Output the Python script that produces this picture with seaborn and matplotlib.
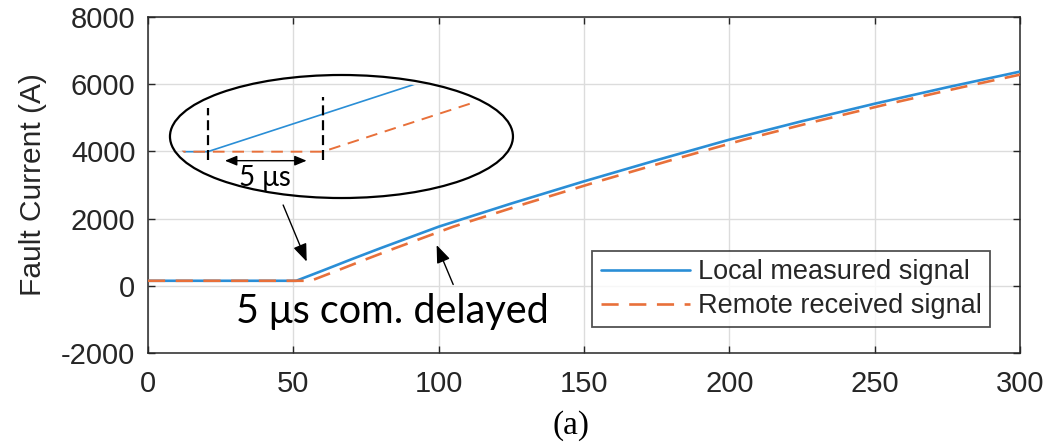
import numpy as np
import pandas as pd
import matplotlib
matplotlib.use("Agg")
import matplotlib.pyplot as plt
from matplotlib.patches import Ellipse
import seaborn as sns

# Sampled fault current (A) versus time (us)
local_time = [0, 51, 60, 70, 80, 90, 100, 125, 150, 175, 200, 225, 250, 275, 300]
local_current = [150, 150, 450, 790, 1120, 1440, 1760, 2450, 3110, 3740, 4350, 4900, 5420, 5910, 6375]

# Same waveform as received at the remote end over the communication link
remote_time = [0, 56, 65, 75, 85, 95, 105, 130, 155, 180, 205, 230, 255, 280, 300]
remote_current = [150, 150, 450, 790, 1120, 1440, 1760, 2450, 3110, 3740, 4350, 4900, 5420, 5910, 6285]

fault_onset = 51      # us, local
com_delay = 5         # us

x_ticks = [0, 50, 100, 150, 200, 250, 300]
y_ticks = [-2000, 0, 2000, 4000, 6000, 8000]

blue = "#2a8ed6"
orange = "#e8703a"
remote_dash = (0, (6.5, 4.0))

sns.set_theme(style="white")
plt.rcParams["font.family"] = ["Liberation Sans", "DejaVu Sans"]

local_df = pd.DataFrame({"t": local_time, "i": local_current})
remote_df = pd.DataFrame({"t": remote_time, "i": remote_current})

fig = plt.figure(figsize=(10.57, 4.48), dpi=100)
ax = fig.add_axes([0.140, 0.212, 0.825, 0.750])

sns.lineplot(data=local_df, x="t", y="i", ax=ax, color=blue, linewidth=1.9,
             label="Local measured signal", zorder=3)
sns.lineplot(data=remote_df, x="t", y="i", ax=ax, color=orange, linewidth=1.9,
             linestyle=remote_dash, label="Remote received signal", zorder=4)

ax.set_xlim(0, 300)
ax.set_ylim(-2000, 8000)
ax.set_xticks(x_ticks)
ax.set_yticks(y_ticks)
ax.set_xticklabels([str(v) for v in x_ticks])
ax.set_yticklabels([str(v) for v in y_ticks])
ax.set_xlabel("")
ax.set_ylabel("Fault Current (A)", fontsize=21.5, color="#262626", labelpad=10)
ax.tick_params(axis="both", which="both", direction="in", length=5, width=1.0,
               color="#262626", labelsize=21, labelcolor="#262626",
               top=True, right=True, bottom=True, left=True)
ax.tick_params(axis="x", pad=12)
ax.tick_params(axis="y", pad=9)
ax.grid(True, color="#dcdcdc", linewidth=1.0)
ax.set_axisbelow(True)
for s in ax.spines.values():
    s.set_visible(True)
    s.set_color("#262626")
    s.set_linewidth(1.1)

leg = ax.legend(loc="lower right", bbox_to_anchor=(0.9656, 0.0765), borderaxespad=0,
                fontsize=19.5, frameon=True, fancybox=False, edgecolor="#262626",
                handlelength=3.3, handletextpad=0.3, labelspacing=0.3,
                borderpad=0.3)
leg.get_frame().set_linewidth(1.3)
for t in leg.get_texts():
    t.set_color("#262626")

# Annotation for the delay
ax.text(84.1, -750, "5 \u03bcs com. delayed", fontsize=28.5, family=["Lato", "DejaVu Sans"],
        ha="center", va="center", color="black")
arrow_kw = dict(arrowstyle="-|>,head_length=0.9,head_width=0.35", color="black",
                linewidth=1.0, shrinkA=0, shrinkB=0)
ax.annotate("", xy=(54.6, 720), xytext=(46.5, 2405), arrowprops=arrow_kw)
ax.annotate("", xy=(99.3, 1214), xytext=(105, 40), arrowprops=arrow_kw)

# Magnified view around the fault onset
ins = fig.add_axes([0.1608, 0.558, 0.3245, 0.2746])
ins.set_facecolor("none")
sns.lineplot(data=local_df, x="t", y="i", ax=ins, color=blue, linewidth=1.2)
sns.lineplot(data=remote_df, x="t", y="i", ax=ins, color=orange, linewidth=1.4,
             linestyle=(0, (6, 4)))
ins.set_xlim(49.36, 64.27)
ins.set_ylim(-56, 491)
ins.set_axis_off()

clip = Ellipse((0.5, 0.5), 0.96, 0.93, transform=ins.transAxes)
for ln in ins.get_lines():
    ln.set_clip_path(clip)

ring = Ellipse((0.5, 0.5), 1.0, 1.0, transform=ins.transAxes, fill=False,
               edgecolor="black", linewidth=1.6, clip_on=False)
ins.add_patch(ring)

marker_kw = dict(color="black", linewidth=1.6, linestyle=(0, (4.5, 2.2)))
ins.plot([fault_onset, fault_onset], [113, 343], **marker_kw)
ins.plot([fault_onset + com_delay, fault_onset + com_delay], [113, 394], **marker_kw)
ins.annotate("", xy=(fault_onset + 0.75, 110), xytext=(fault_onset + com_delay - 0.7, 110),
             arrowprops=dict(arrowstyle="<|-|>,head_length=0.6,head_width=0.25",
                             color="black", linewidth=1.0, shrinkA=0, shrinkB=0))
ins.text(fault_onset + com_delay / 2, 33, "5 \u03bcs", fontsize=20,
         family=["Lato", "DejaVu Sans"], ha="center", va="center", color="black")

fig.text(0.540, 0.051, "(a)", fontsize=24, family=["Liberation Serif", "DejaVu Serif"],
         ha="center", va="center", color="black")

fig.savefig("out.png", dpi=100)
